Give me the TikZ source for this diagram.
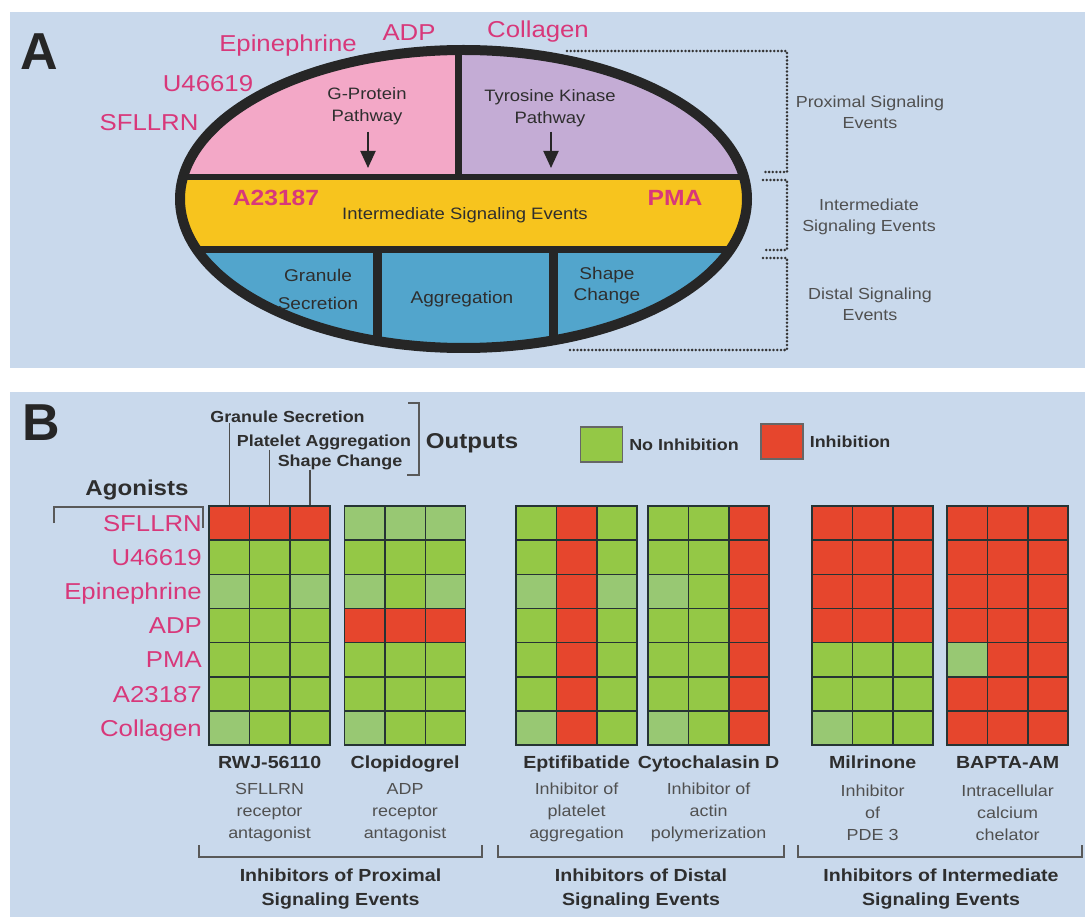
\documentclass[tikz,border=0pt]{standalone}
\usepackage{fontspec}
\setmainfont{Liberation Sans}[FakeStretch=1.12]
\newfontfamily\panelfont{Liberation Sans}
\usetikzlibrary{positioning,arrows.meta}

\definecolor{panelbg}{HTML}{C9D9EC}
\definecolor{agon}{HTML}{D8387A}
\definecolor{gprot}{HTML}{F3A8C7}
\definecolor{tyrk}{HTML}{C4ACD5}
\definecolor{interm}{HTML}{F7C41E}
\definecolor{distal}{HTML}{52A5CC}
\definecolor{rim}{HTML}{262626}
\definecolor{cR}{HTML}{E6462D}
\definecolor{cG}{HTML}{94C846}
\definecolor{cP}{HTML}{98C873}
\definecolor{txtdark}{HTML}{2E2E2E}
\definecolor{txtgray}{HTML}{505050}
\definecolor{gridline}{HTML}{263434}

\tikzset{
  panelletter/.style={font=\panelfont\bfseries\fontsize{52}{52}\selectfont, text=black!85, inner sep=0pt},
  agonist/.style={font=\fontsize{23}{26}\selectfont, text=agon, inner sep=0pt},
  agonistbold/.style={font=\bfseries\fontsize{22}{26}\selectfont, text=agon, inner sep=0pt},
  pathtext/.style={font=\fontsize{16.5}{22}\selectfont, text=txtdark, align=center, inner sep=0pt},
  sidelabel/.style={font=\fontsize{16}{21}\selectfont, text=txtgray, align=center, inner sep=0pt},
  header/.style={font=\bfseries\fontsize{16}{20}\selectfont, text=txtdark, inner sep=0pt},
  bighead/.style={font=\bfseries\fontsize{21.5}{24}\selectfont, text=txtdark, inner sep=0pt},
  drug/.style={font=\bfseries\fontsize{17.5}{22}\selectfont, text=txtdark, inner sep=0pt},
  drugnote/.style={font=\fontsize{16}{22}\selectfont, text=txtgray, align=center, inner sep=0pt},
  groupname/.style={font=\bfseries\fontsize{17.5}{24}\selectfont, text=txtdark, align=center, inner sep=0pt},
  cell/.style={draw=gridline, line width=1.5pt, minimum width=40.4pt, minimum height=34.17pt, inner sep=0pt},
  legendbox/.style={draw=black!60, line width=1.2pt, minimum width=42pt, minimum height=35pt, inner sep=0pt},
  bracketline/.style={draw=black!65, line width=1.4pt},
  dotline/.style={draw=black!80, line width=2.8pt, line cap=round, dash pattern=on 0pt off 3.7pt},
  pathArrow/.style={-{Triangle[length=17pt,width=15pt]}, line width=2pt, draw=rim, fill=rim},
  leader/.style={draw=black!70, line width=1.3pt},
}

% one 7x3 response grid: name, left edge, cell colours row by row
\newcommand{\drawgrid}[3]{%
  \foreach \clr [count=\k from 0] in {#3} {
    \pgfmathtruncatemacro{\row}{div(\k,3)}
    \pgfmathtruncatemacro{\col}{mod(\k,3)}
    \node[cell, fill=\clr] (#1-\row-\col) at ({#2+20.2+40.4*\col},{523.1+34.17*\row}) {};
  }
}

\begin{document}
\begin{tikzpicture}[x=1pt,y=-1pt]
    \useasboundingbox[fill=white] (0,0) rectangle (1085,917);
    \fill[panelbg] (10,12) rectangle (1085,368);
    \fill[panelbg] (10,392) rectangle (1085,917);

    % panel A
    \node[panelletter] (letA) at (39,52) {A};
    \begin{scope}
        \clip (463.5,199) ellipse [x radius=283.5, y radius=149];
        \fill[gprot] (170,40) rectangle (458,177);
        \fill[tyrk] (458,40) rectangle (760,177);
        \fill[interm] (170,177) rectangle (760,250);
        \fill[distal] (170,250) rectangle (760,360);
        \draw[rim, line width=6pt] (170,177) -- (760,177);
        \draw[rim, line width=7pt] (170,250) -- (760,250);
        \draw[rim, line width=7pt] (458,40) -- (458,177);
        \draw[rim, line width=9pt] (377,250) -- (377,360);
        \draw[rim, line width=9pt] (553,250) -- (553,360);
    \end{scope}
    \draw[rim, line width=10pt] (463.5,199) ellipse [x radius=283.5, y radius=149];

    \node[agonist, anchor=base] (epiA) at (288,52) {Epinephrine};
    \node[agonist, anchor=base] (adpA) at (409,41) {ADP};
    \node[agonist, anchor=base] (colA) at (538,38) {Collagen};
    \node[agonist, anchor=base] (u46A) at (208,92) {U46619};
    \node[agonist, anchor=base] (sflA) at (149,131) {SFLLRN};

    \node[pathtext] (gp) at (367,106) {G-Protein\\Pathway};
    \node[pathtext] (tk) at (550,108) {Tyrosine Kinase\\Pathway};
    \coordinate (gpTop) at (368,132);
    \coordinate (gpTip) at (368,168);
    \coordinate (tkTop) at (551,132);
    \coordinate (tkTip) at (551,168);
    \draw[pathArrow] (gpTop) -- (gpTip);
    \draw[pathArrow] (tkTop) -- (tkTip);

    \node[agonistbold] (a23A) at (276,198) {A23187};
    \node[agonistbold] (pmaA) at (675,198) {PMA};
    \node[pathtext] (mid) at (465,215) {Intermediate Signaling Events};
    \node[pathtext, font=\fontsize{17}{28}\selectfont] (gran) at (318,289) {Granule\\Secretion};
    \node[pathtext, font=\fontsize{17}{22}\selectfont] (aggr) at (462,299) {Aggregation};
    \node[pathtext, font=\fontsize{17}{21}\selectfont] (shape) at (607,286) {Shape\\Change};

    \draw[dotline] (567,51) -- (787,51) -- (787,172) -- (763,172);
    \draw[dotline] (763,180) -- (787,180) -- (787,250) -- (763,250);
    \draw[dotline] (763,258) -- (787,258) -- (787,350) -- (570,350);
    \node[sidelabel] (prox) at (870,112.5) {Proximal Signaling\\Events};
    \node[sidelabel] (inter) at (869,217) {Intermediate\\Signaling Events};
    \node[sidelabel] (dist) at (870,304.5) {Distal Signaling\\Events};

    % panel B
    \node[panelletter] (letB) at (41,423) {B};
    \drawgrid{rwj}{209}{cR,cR,cR, cG,cG,cG, cP,cG,cP, cG,cG,cG, cG,cG,cG, cG,cG,cG, cP,cG,cG}
    \drawgrid{clop}{344.5}{cP,cP,cP, cG,cG,cG, cP,cG,cP, cR,cR,cR, cG,cG,cG, cG,cG,cG, cP,cG,cG}
    \drawgrid{epti}{516}{cG,cR,cG, cG,cR,cG, cP,cR,cP, cG,cR,cG, cG,cR,cG, cG,cR,cG, cP,cR,cG}
    \drawgrid{cyto}{648}{cG,cG,cR, cG,cG,cR, cP,cG,cR, cG,cG,cR, cG,cG,cR, cG,cG,cR, cP,cG,cR}
    \drawgrid{milr}{812}{cR,cR,cR, cR,cR,cR, cR,cR,cR, cR,cR,cR, cG,cG,cG, cG,cG,cG, cP,cG,cG}
    \drawgrid{bapta}{947}{cR,cR,cR, cR,cR,cR, cR,cR,cR, cR,cR,cR, cP,cR,cR, cR,cR,cR, cR,cR,cR}

    \foreach \ag [count=\r from 0] in {SFLLRN,U46619,Epinephrine,ADP,PMA,A23187,Collagen}
        \node[agonist, anchor=base east] (ag\r) at (202,{531.3+34.17*\r}) {\ag};
    \node[bighead] (agon) at (137,490) {Agonists};
    \draw[bracketline] (54,523) -- (54,507) -- (203,507) -- (203,528);

    \node[header] (gsHdr) at (287.5,417) {Granule Secretion};
    \node[header] (paHdr) at (324,442) {Platelet Aggregation};
    \node[header] (scHdr) at (340,462) {Shape Change};
    \draw[leader] (gsHdr.south -| rwj-0-0.north) -- (rwj-0-0.north);
    \draw[leader] (paHdr.south -| rwj-0-1.north) -- (rwj-0-1.north);
    \draw[leader] (scHdr.south -| rwj-0-2.north) -- (rwj-0-2.north);
    \draw[bracketline] (408,403) -- (419,403) -- (419,475) -- (407,475);
    \node[bighead] (outp) at (472,443) {Outputs};

    \node[legendbox, fill=cG] (legNo) at (601.5,444.5) {};
    \node[header, right=6pt of legNo] (legNoTxt) {No Inhibition};
    \node[legendbox, fill=cR] (legYes) at (782,441.5) {};
    \node[header, right=6pt of legYes] (legYesTxt) {Inhibition};

    \coordinate (nameRow) at (0,768);
    \coordinate (noteRow) at (0,812.5);
    \node[drug, anchor=base] (rwjName) at (rwj-6-1 |- nameRow) {RWJ-56110};
    \node[drug, anchor=base] (clopName) at (clop-6-1 |- nameRow) {Clopidogrel};
    \node[drug, anchor=base] (eptiName) at (epti-6-1 |- nameRow) {Eptifibatide};
    \node[drug, anchor=base] (cytoName) at (cyto-6-1 |- nameRow) {Cytochalasin D};
    \node[drug, anchor=base] (milrName) at (milr-6-1 |- nameRow) {Milrinone};
    \node[drug, anchor=base] (baptaName) at (bapta-6-1 |- nameRow) {BAPTA-AM};
    \node[drugnote] (rwjNote) at (rwj-6-1 |- noteRow) {SFLLRN\\receptor\\antagonist};
    \node[drugnote] (clopNote) at (clop-6-1 |- noteRow) {ADP\\receptor\\antagonist};
    \node[drugnote] (eptiNote) at (epti-6-1 |- noteRow) {Inhibitor of\\platelet\\aggregation};
    \node[drugnote] (cytoNote) at (cyto-6-1 |- noteRow) {Inhibitor of\\actin\\polymerization};
    \node[drugnote] (milrNote) at (milr-6-1 |- noteRow) {Inhibitor\\of\\PDE 3};
    \node[drugnote] (baptaNote) at (bapta-6-1 |- noteRow) {Intracellular\\calcium\\chelator};

    \draw[bracketline] (199,845) -- (199,857) -- (482,857) -- (482,845);
    \draw[bracketline] (498,845) -- (498,857) -- (784,857) -- (784,845);
    \draw[bracketline] (798,845) -- (798,857) -- (1082,857) -- (1082,845);
    \node[groupname] (proxGrp) at (340.5,889) {Inhibitors of Proximal\\Signaling Events};
    \node[groupname] (distGrp) at (641,889) {Inhibitors of Distal\\Signaling Events};
    \node[groupname] (interGrp) at (941,889) {Inhibitors of Intermediate\\Signaling Events};
\end{tikzpicture}
\end{document}
